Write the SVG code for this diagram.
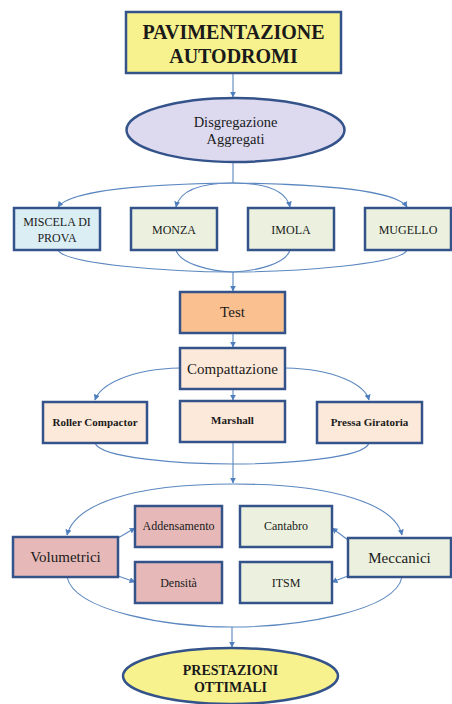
<svg xmlns="http://www.w3.org/2000/svg" width="452" height="704" viewBox="0 0 452 704">
<style>
.n{stroke:#34538a;stroke-width:2.5}
.c{fill:none;stroke:#5b87c0;stroke-width:1.1}
.t{font-family:'Liberation Serif','DejaVu Serif',serif;fill:#1a1a1a;text-anchor:middle}
</style>
<defs>
<marker id="a" viewBox="0 0 10 10" refX="9" refY="5" markerWidth="6" markerHeight="6" orient="auto" markerUnits="userSpaceOnUse">
<path d="M0,0 L10,5 L0,10 z" fill="#4f7fbf"/>
</marker>
</defs>
<rect width="452" height="704" fill="#fff"/>
<g id="connectors">
<path class="c" d="M233,73 L233,97" marker-end="url(#a)"/>
<path class="c" d="M233,162 L233,183"/>
<path class="c" d="M233,183 C150,184 70,190 58,207" marker-end="url(#a)"/>
<path class="c" d="M233,183 C200,183 180,190 176,207" marker-end="url(#a)"/>
<path class="c" d="M233,183 C266,183 286,190 290,207" marker-end="url(#a)"/>
<path class="c" d="M233,183 C316,184 396,190 407,207" marker-end="url(#a)"/>
<path class="c" d="M58,250 C64,264 170,272 233,272"/>
<path class="c" d="M176,250 C180,264 210,271 233,272"/>
<path class="c" d="M290,250 C286,264 256,271 233,272"/>
<path class="c" d="M407,250 C402,264 296,272 233,272"/>
<path class="c" d="M233,272 L233,291" marker-end="url(#a)"/>
<path class="c" d="M233,333 L233,347" marker-end="url(#a)"/>
<path class="c" d="M180,368 C130,369 100,385 95,400" marker-end="url(#a)"/>
<path class="c" d="M285,368 C336,369 365,385 369,400" marker-end="url(#a)"/>
<path class="c" d="M233,389 L233,400" marker-end="url(#a)"/>
<path class="c" d="M95,443 C100,458 180,464 233,464"/>
<path class="c" d="M369,443 C365,458 285,464 233,464"/>
<path class="c" d="M233,442 L233,483" marker-end="url(#a)"/>
<path class="c" d="M233,484 C130,484 75,505 67,535" marker-end="url(#a)"/>
<path class="c" d="M233,484 C336,484 395,505 402,535" marker-end="url(#a)"/>
<path class="c" d="M118,538 L135,528" marker-end="url(#a)"/>
<path class="c" d="M118,576 L135,582" marker-end="url(#a)"/>
<path class="c" d="M348,540 L332,528" marker-end="url(#a)"/>
<path class="c" d="M348,576 L332,582" marker-end="url(#a)"/>
<path class="c" d="M67,577 C75,612 170,627 232,627"/>
<path class="c" d="M402,577 C395,612 295,627 232,627"/>
<path class="c" d="M232,627 L232,647" marker-end="url(#a)"/>
</g>
<g font-family="'Liberation Serif','DejaVu Serif',serif">
<g id="title">
<rect class="n" x="126" y="12" width="215" height="61" fill="#f8f28e"/>
<text class="t" x="233.5" y="39" font-size="20" font-weight="bold">PAVIMENTAZIONE</text>
<text class="t" x="233.5" y="63" font-size="20" font-weight="bold">AUTODROMI</text>
</g>
<g id="disgregazione">
<ellipse class="n" cx="235.5" cy="130" rx="109" ry="32" fill="#dddaf0"/>
<text class="t" x="235.5" y="127" font-size="14.5">Disgregazione</text>
<text class="t" x="235.5" y="144" font-size="14.5">Aggregati</text>
</g>
<g id="miscela">
<rect class="n" x="14" y="208" width="86" height="42" fill="#dbeef4"/>
<text class="t" x="57" y="226" font-size="12">MISCELA DI</text>
<text class="t" x="57" y="242" font-size="12">PROVA</text>
</g>
<g id="monza">
<rect class="n" x="131" y="208" width="86" height="42" fill="#ebf1de"/>
<text class="t" x="174" y="234" font-size="12">MONZA</text>
</g>
<g id="imola">
<rect class="n" x="248" y="208" width="86" height="42" fill="#ebf1de"/>
<text class="t" x="291" y="234" font-size="12">IMOLA</text>
</g>
<g id="mugello">
<rect class="n" x="365" y="208" width="86" height="42" fill="#ebf1de"/>
<text class="t" x="408" y="234" font-size="12">MUGELLO</text>
</g>
<g id="test">
<rect class="n" x="180" y="292" width="105" height="41" fill="#fac090"/>
<text class="t" x="232.5" y="317" font-size="15">Test</text>
</g>
<g id="compattazione">
<rect class="n" x="180" y="348" width="105" height="41" fill="#fde9d9"/>
<text class="t" x="232.5" y="374" font-size="15">Compattazione</text>
</g>
<g id="roller">
<rect class="n" x="43" y="402" width="104" height="41" fill="#fde9d9"/>
<text class="t" x="95" y="426" font-size="11" font-weight="bold" fill="#333">Roller Compactor</text>
</g>
<g id="marshall">
<rect class="n" x="180" y="401" width="105" height="41" fill="#fde9d9"/>
<text class="t" x="232.5" y="424" font-size="11" font-weight="bold" fill="#333">Marshall</text>
</g>
<g id="pressa">
<rect class="n" x="317" y="402" width="105" height="41" fill="#fde9d9"/>
<text class="t" x="369.5" y="426" font-size="11" font-weight="bold" fill="#333">Pressa Giratoria</text>
</g>
<g id="volumetrici">
<rect class="n" x="13" y="537" width="105" height="40" fill="#e6b9b8"/>
<text class="t" x="65.5" y="562" font-size="15">Volumetrici</text>
</g>
<g id="addensamento">
<rect class="n" x="135" y="506" width="87" height="41" fill="#e6b9b8"/>
<text class="t" x="178.5" y="530" font-size="12">Addensamento</text>
</g>
<g id="densita">
<rect class="n" x="135" y="562" width="87" height="41" fill="#e6b9b8"/>
<text class="t" x="178.5" y="587" font-size="12">Densità</text>
</g>
<g id="cantabro">
<rect class="n" x="240" y="506" width="92" height="41" fill="#ebf1de"/>
<text class="t" x="286" y="530" font-size="12">Cantabro</text>
</g>
<g id="itsm">
<rect class="n" x="240" y="562" width="92" height="41" fill="#ebf1de"/>
<text class="t" x="286" y="587" font-size="12">ITSM</text>
</g>
<g id="meccanici">
<rect class="n" x="348" y="538" width="103" height="39" fill="#ebf1de"/>
<text class="t" x="399.5" y="563" font-size="15">Meccanici</text>
</g>
<g id="prestazioni">
<ellipse class="n" cx="230.5" cy="676" rx="107.5" ry="28" fill="#f8f28e"/>
<text class="t" x="230.5" y="675" font-size="14" font-weight="bold">PRESTAZIONI</text>
<text class="t" x="230.5" y="692" font-size="14" font-weight="bold">OTTIMALI</text>
</g>
</g>
</svg>
